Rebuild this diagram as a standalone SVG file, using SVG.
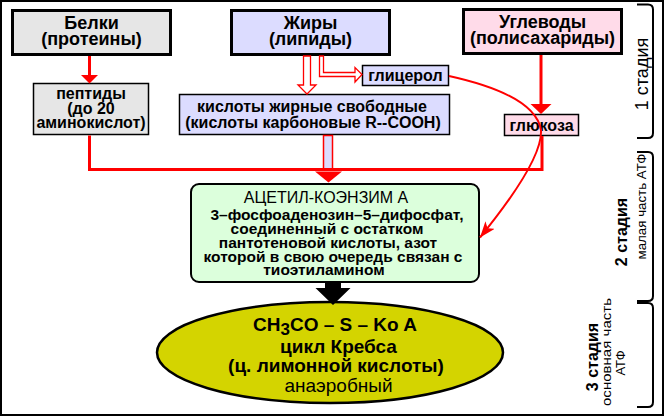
<svg xmlns="http://www.w3.org/2000/svg" width="664" height="416" viewBox="0 0 664 416">
<style>
text{font-family:"Liberation Sans",Arial,sans-serif;fill:#000;text-anchor:middle}
.b{font-weight:bold}
.t18{font-size:18px}
.t16{font-size:16px}
.t15{font-size:15.5px}
.big{stroke:#000;stroke-width:3}
.thin{stroke:#000;stroke-width:1.5}
.red{stroke:#f00;stroke-width:3;fill:none}
.redf{fill:#f00;stroke:none}
.hollow{fill:#fff;stroke:#f00;stroke-width:1.3}
.brk{fill:none;stroke:#000;stroke-width:2}
</style>
<defs>
<marker id="ah" viewBox="0 0 16 12" refX="16" refY="6" markerWidth="16" markerHeight="12" markerUnits="userSpaceOnUse" orient="auto">
<path d="M0,0 L16,6 L0,12 L4,6 z" fill="#f00"/>
</marker>
</defs>
<rect x="0" y="0" width="664" height="416" fill="#fff"/>
<rect x="1" y="1" width="662" height="414" fill="none" stroke="#000" stroke-width="2"/>

<g id="belki">
<rect class="big" x="12.5" y="10.5" width="158" height="44" fill="#e6e6e6"/>
<text class="b t18" x="91.5" y="29">Белки</text>
<text class="b t18" x="91.5" y="45">(протеины)</text>
</g>
<g id="zhiry">
<rect class="big" x="231.5" y="10.5" width="158" height="44" fill="#dcdcff"/>
<text class="b t18" x="310.5" y="29">Жиры</text>
<text class="b t18" x="310.5" y="45">(липиды)</text>
</g>
<g id="uglevody">
<rect class="big" x="463.5" y="9.5" width="158" height="44" fill="#ffdbe9"/>
<text class="b t18" x="542.5" y="28">Углеводы</text>
<text class="b t18" x="542.5" y="44">(полисахариды)</text>
</g>
<g id="peptidy">
<rect class="thin" x="33.5" y="83.5" width="115" height="51" fill="#e6e6e6"/>
<text class="b t16" x="91" y="99">пептиды</text>
<text class="b t16" x="91" y="113.5">(до 20</text>
<text class="b t16" x="91" y="128">аминокислот)</text>
</g>
<g id="kisloty">
<rect class="thin" x="179.5" y="94.5" width="270" height="40" fill="#dcdcff"/>
<text class="b t16" x="312" y="112">кислоты жирные свободные</text>
<text class="b t16" x="313" y="128">(кислоты карбоновые R--COOH)</text>
</g>
<g id="glicerol">
<rect class="thin" x="362.5" y="65.5" width="86" height="20" fill="#dcdcff"/>
<text class="b t16" x="405.5" y="81">глицерол</text>
</g>
<g id="glukoza">
<rect class="thin" x="504.5" y="114.5" width="74" height="21" fill="#ffdbe9"/>
<text class="b t16" x="541.5" y="130.5">глюкоза</text>
</g>
<g id="acetyl">
<rect x="191" y="184" width="288" height="98" rx="8" fill="#dcffdc" stroke="#000" stroke-width="2"/>
<text class="t16" x="326" y="203">АЦЕТИЛ-КОЭНЗИМ А</text>
<text class="b t15" x="337" y="219.5">3–фосфоаденозин–5–дифосфат,</text>
<text class="b t15" x="327" y="233.5">соединенный с остатком</text>
<text class="b t15" x="328" y="247.5">пантотеновой кислоты, азот</text>
<text class="b t15" x="333" y="261.5">которой в свою очередь связан с</text>
<text class="b t15" x="324" y="275">тиоэтиламином</text>
</g>
<g id="krebs">
<ellipse cx="330" cy="352.5" rx="173" ry="50.5" fill="#d4d400" stroke="#000" stroke-width="2.5"/>
<text class="b" style="font-size:19px" x="335" y="331">CH<tspan style="font-size:17px" dy="4">3</tspan><tspan dy="-4">CO – S – Ko A</tspan></text>
<text class="b" style="font-size:19px" x="338.5" y="352.5">цикл Кребса</text>
<text class="b" style="font-size:19px" x="336" y="372">(ц. лимонной кислоты)</text>
<text style="font-size:19px" x="338.5" y="392">анаэробный</text>
</g>
<g id="stage1">
<path class="brk" d="M637,4.5 H648 Q653,4.5 653,9.5 V133 Q653,138 648,138 H637"/>
<text style="font-size:18px" transform="translate(648,74) rotate(-90)">1 стадия</text>
</g>
<g id="stage2">
<path class="brk" d="M637,152 H648 Q653,152 653,157 V296 Q653,301 648,301 H637"/>
<text class="b t16" transform="translate(627,232) rotate(-90)">2 стадия</text>
<text style="font-size:13px" textLength="106" lengthAdjust="spacingAndGlyphs" transform="translate(646,206.5) rotate(-90)">малая часть АТФ</text>
</g>
<g id="stage3">
<path class="brk" d="M637,303 H648 Q653,303 653,308 V402 Q653,407 648,407 H637"/>
<text class="b t16" transform="translate(598,357) rotate(-90)">3 стадия</text>
<text style="font-size:13px" textLength="108" lengthAdjust="spacingAndGlyphs" transform="translate(611,352) rotate(-90)">основная часть</text>
<text style="font-size:13px" transform="translate(625,363) rotate(-90)">АТФ</text>
</g>

<g id="connectors">
<line class="red" x1="89.5" y1="56" x2="89.5" y2="76"/>
<polygon class="redf" points="81,75 98,75 89.5,83.5"/>
<rect x="323.5" y="135.5" width="9" height="34" fill="#dcdcff" stroke="#f00" stroke-width="1.5"/>
<polyline class="red" points="89.5,135.5 89.5,169.5 542,169.5 542,136"/>
<polygon class="redf" points="315,171.5 342,171.5 328.5,182.5"/>
<line class="red" x1="541" y1="55" x2="541" y2="105"/>
<polygon class="redf" points="530.5,104 551.5,104 541,114"/>
<polygon class="hollow" points="303.5,56 303.5,85 298,85 307,94 316,85 310.5,85 310.5,56"/>
<polygon class="hollow" points="319.5,56 319.5,76.5 355,76.5 355,82 362,74.5 355,67.5 355,72.5 323.5,72.5 323.5,56"/>
<path d="M449,76 Q535,95 541,130 Q543,160 480,237.5" fill="none" stroke="#f00" stroke-width="2" marker-end="url(#ah)"/>
<polygon fill="#000" points="325,283 341,283 341,288 350.5,288 333,305 315.5,288 325,288"/>
</g>
</svg>
